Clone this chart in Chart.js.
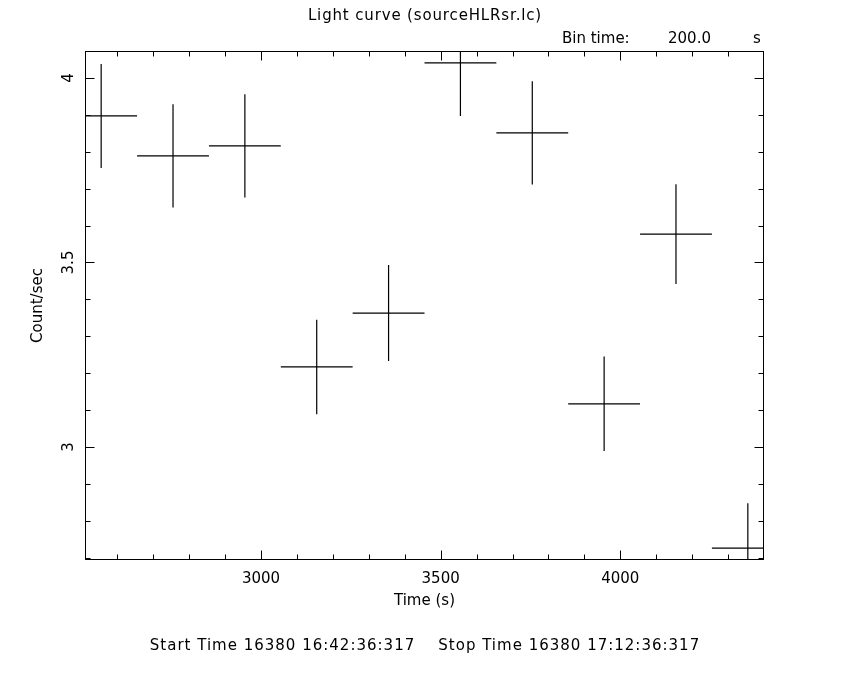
<!DOCTYPE html>
<html>
<head>
<meta charset="utf-8">
<script src="https://cdn.jsdelivr.net/npm/chart.js@4.4.0/dist/chart.umd.min.js"></script>
<style>
  body { margin: 0; background: #fff; }
  #wrap { position: relative; width: 850px; height: 680px; }
  .txt { position: absolute; font-family: "DejaVu Sans"; font-size: 15px; line-height: 18px; color: #000; white-space: pre; }
</style>
</head>
<body>
<div id="wrap">
  <canvas id="lcChart" width="850" height="680"></canvas>
  <div class="txt" style="left:0; width:850px; text-align:center; top:6px; letter-spacing:0.85px;">Light curve (sourceHLRsr.lc)</div>
  <div class="txt" style="left:562px; top:29px;">Bin time:</div>
  <div class="txt" style="left:668px; top:29px;">200.0</div>
  <div class="txt" style="left:753px; top:29px;">s</div>
  <div class="txt" style="left:0; width:850px; text-align:center; top:636px; letter-spacing:1px;">Start Time 16380 16:42:36:317    Stop Time 16380 17:12:36:317</div>
</div>
<script>
// light curve bins (time in s since start)
const binCenters = [2555, 2755, 2955, 3155, 3355, 3555, 3755, 3955, 4155, 4355];
const binWidth = 200;
const rates = [3.897, 3.789, 3.816, 3.217, 3.363, 4.041, 3.851, 3.117, 3.577, 2.726];
const rateErrors = [0.141, 0.140, 0.140, 0.128, 0.130, 0.144, 0.140, 0.128, 0.135, 0.122];
const xTicks = [3000, 3500, 4000];
const yTicks = [3, 3.5, 4];

// horizontal bars = bin width, vertical bars = error on rate
const hBars = binCenters.flatMap((t, i) => [
  { x: t - binWidth / 2, y: rates[i] },
  { x: t + binWidth / 2, y: rates[i] },
  { x: t, y: null }
]);
const vBars = binCenters.flatMap((t, i) => [
  { x: t, y: rates[i] - rateErrors[i] },
  { x: t, y: rates[i] + rateErrors[i] },
  { x: t, y: null }
]);

// frame + inward ticks on all four sides, like the pgplot box
const frameTicks = {
  id: 'frameTicks',
  afterDatasetsDraw(chart) {
    const { ctx, chartArea: a, scales: { x, y } } = chart;
    const L = Math.round(a.left) + 0.5, R = Math.round(a.right) - 0.5;
    const T = Math.round(a.top) + 0.5, B = Math.round(a.bottom) - 0.5;
    ctx.save();
    ctx.strokeStyle = '#000';
    ctx.lineWidth = 1;
    ctx.strokeRect(L, T, R - L, B - T);
    ctx.beginPath();
    for (let v = 2600; v <= 4400; v += 100) {
      const px = Math.round(x.getPixelForValue(v)) + 0.5;
      if (px <= L || px >= R) continue;
      const len = v % 500 === 0 ? 9 : 5;
      ctx.moveTo(px, B); ctx.lineTo(px, B - len);
      ctx.moveTo(px, T); ctx.lineTo(px, T + len);
    }
    for (let k = 27; k <= 40; k++) {
      const v = k / 10;
      const py = Math.round(y.getPixelForValue(v)) + 0.5;
      if (py <= T || py >= B) continue;
      const len = k % 5 === 0 ? 9 : 5;
      ctx.moveTo(L, py); ctx.lineTo(L + len, py);
      ctx.moveTo(R, py); ctx.lineTo(R - len, py);
    }
    ctx.stroke();
    ctx.restore();
  }
};

const font = { family: 'DejaVu Sans', size: 15 };

new Chart(document.getElementById('lcChart'), {
  type: 'scatter',
  data: {
    datasets: [
      { data: hBars, showLine: true, spanGaps: false, borderColor: '#000', borderWidth: 1.2, pointRadius: 0 },
      { data: vBars, showLine: true, spanGaps: false, borderColor: '#000', borderWidth: 1.2, pointRadius: 0 }
    ]
  },
  options: {
    responsive: false,
    animation: false,
    layout: { padding: { left: 0, top: 51, right: 86, bottom: 60 } },
    plugins: { legend: { display: false }, tooltip: { enabled: false } },
    scales: {
      x: {
        type: 'linear', min: 2510, max: 4400,
        grid: { display: false, drawTicks: false },
        border: { display: false },
        afterBuildTicks: s => { s.ticks = xTicks.map(v => ({ value: v })); },
        afterFit: s => { s.height = 60; },
        ticks: { font, color: '#000', padding: 10, maxRotation: 0, callback: v => String(v) },
        title: { display: true, text: 'Time (s)', font, color: '#000', padding: { top: 0, bottom: 10 } }
      },
      y: {
        type: 'linear', min: 2.694, max: 4.073,
        grid: { display: false, drawTicks: false },
        border: { display: false },
        afterBuildTicks: s => { s.ticks = yTicks.map(v => ({ value: v })); },
        afterFit: s => { s.width = 85; },
        ticks: { font, color: '#000', padding: 4, minRotation: 90, maxRotation: 90, crossAlign: 'center', callback: v => String(v) },
        title: { display: true, text: 'Count/sec', font, color: '#000', padding: { top: 29, bottom: 0 } }
      }
    }
  },
  plugins: [frameTicks]
});
</script>
</body>
</html>
